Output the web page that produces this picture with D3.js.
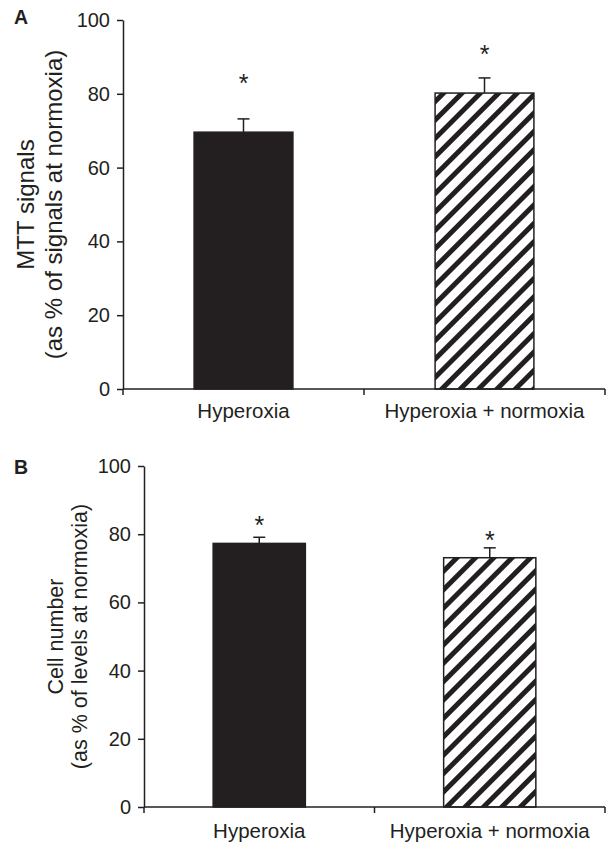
<!DOCTYPE html>
<html>
<head>
<meta charset="utf-8">
<script src="https://cdn.jsdelivr.net/npm/d3@7"></script>
<style>
  body { margin: 0; background: #fff; }
  text { font-family: "Liberation Sans", Arial, sans-serif; fill: #231f20; }
</style>
</head>
<body>
<svg id="chart" width="608" height="845"></svg>
<script>
// data
const categories = ["Hyperoxia", "Hyperoxia + normoxia"];
const yTicks = [0, 20, 40, 60, 80, 100];

const mttValues = [69.6, 80.2];
const mttErrors = [3.6, 4.1];
const mttStars = [84.3, 92.4];

const cellValues = [77.3, 73.1];
const cellErrors = [1.8, 2.9];
const cellStars = [84.2, 79.8];

const ink = "#231f20";
const starSize = 25;
const svg = d3.select("#chart");

// hatch for the second bar
svg.append("defs").append("pattern")
  .attr("id", "hatch")
  .attr("patternUnits", "userSpaceOnUse")
  .attr("width", 13).attr("height", 13)
  .attr("patternTransform", "rotate(45)")
  .call(p => {
    p.append("rect").attr("width", 13).attr("height", 13).attr("fill", "#fff");
    p.append("rect").attr("width", 5).attr("height", 13).attr("fill", ink);
  });

function panel({values, errors, stars, letter, letterY, x0, x1, yTop, yBot, barFrac,
                labelLines, labelSize, labelX, tickSize = 20, xLabelDy = 30}) {
  const x = d3.scaleBand().domain(categories).range([x0, x1]).padding(0);
  const y = d3.scaleLinear().domain([0, 100]).range([yBot, yTop]);
  const g = svg.append("g");
  const bw = x.bandwidth() * barFrac;
  const cx = c => x(c) + x.bandwidth() / 2;

  // bars
  g.selectAll("rect.bar")
    .data(categories)
    .enter().append("rect")
    .attr("class", "bar")
    .attr("x", c => cx(c) - bw / 2)
    .attr("width", bw)
    .attr("y", (c, i) => y(values[i]))
    .attr("height", (c, i) => y(0) - y(values[i]))
    .attr("fill", (c, i) => i === 0 ? ink : "url(#hatch)")
    .attr("stroke", ink)
    .attr("stroke-width", 1.5);

  // error bars (upper only) and significance marks
  categories.forEach((c, i) => {
    const top = y(values[i] + errors[i]);
    g.append("line").attr("x1", cx(c)).attr("x2", cx(c))
      .attr("y1", y(values[i])).attr("y2", top)
      .attr("stroke", ink).attr("stroke-width", 1.5);
    g.append("line").attr("x1", cx(c) - 6).attr("x2", cx(c) + 6)
      .attr("y1", top).attr("y2", top)
      .attr("stroke", ink).attr("stroke-width", 1.5);
    g.append("text")
      .attr("x", cx(c)).attr("y", y(stars[i]) + 0.58 * starSize)
      .attr("text-anchor", "middle")
      .attr("font-size", starSize)
      .text("*");
  });

  // y axis
  const yAxis = g.append("g")
    .attr("transform", `translate(${x0},0)`)
    .call(d3.axisLeft(y).tickValues(yTicks).tickSize(6).tickSizeOuter(0).tickPadding(7));
  yAxis.select(".domain").attr("stroke", ink).attr("stroke-width", 1.5);
  yAxis.selectAll(".tick line").attr("stroke", ink).attr("stroke-width", 1.5);
  yAxis.selectAll(".tick text")
    .attr("font-size", tickSize)
    .attr("font-family", "Liberation Sans, Arial, sans-serif")
    .attr("fill", ink);

  // x axis with ticks at category boundaries
  g.append("line").attr("x1", x0).attr("x2", x1)
    .attr("y1", y(0)).attr("y2", y(0))
    .attr("stroke", ink).attr("stroke-width", 1.5);
  const bounds = categories.map(c => x(c)).concat([x1]);
  g.selectAll("line.xtick").data(bounds).enter().append("line")
    .attr("class", "xtick")
    .attr("x1", d => d).attr("x2", d => d)
    .attr("y1", y(0)).attr("y2", y(0) + 6)
    .attr("stroke", ink).attr("stroke-width", 1.5);
  g.selectAll("text.xlab").data(categories).enter().append("text")
    .attr("class", "xlab")
    .attr("x", cx)
    .attr("y", y(0) + xLabelDy)
    .attr("text-anchor", "middle")
    .attr("font-size", 20.5)
    .text(d => d);

  // y label
  const midY = (yTop + yBot) / 2;
  labelLines.forEach((t, i) => {
    g.append("text")
      .attr("transform", `translate(${labelX[i]},${midY}) rotate(-90)`)
      .attr("text-anchor", "middle")
      .attr("font-size", labelSize)
      .text(t);
  });

  // panel letter
  g.append("text").attr("x", 14).attr("y", letterY)
    .attr("font-size", 19.5).attr("font-weight", "bold")
    .text(letter);
}

panel({
  values: mttValues, errors: mttErrors, stars: mttStars,
  letter: "A", letterY: 24,
  x0: 123, x1: 605, yTop: 20, yBot: 389, barFrac: 0.41,
  labelLines: ["MTT signals", "(as % of signals at normoxia)"],
  labelSize: 24, labelX: [34, 62], xLabelDy: 29
});

panel({
  values: cellValues, errors: cellErrors, stars: cellStars,
  letter: "B", letterY: 474,
  x0: 144, x1: 605, yTop: 466, yBot: 807, barFrac: 0.40,
  labelLines: ["Cell number", "(as % of levels at normoxia)"],
  labelSize: 21.5, labelX: [63, 87], xLabelDy: 31
});
</script>
</body>
</html>
